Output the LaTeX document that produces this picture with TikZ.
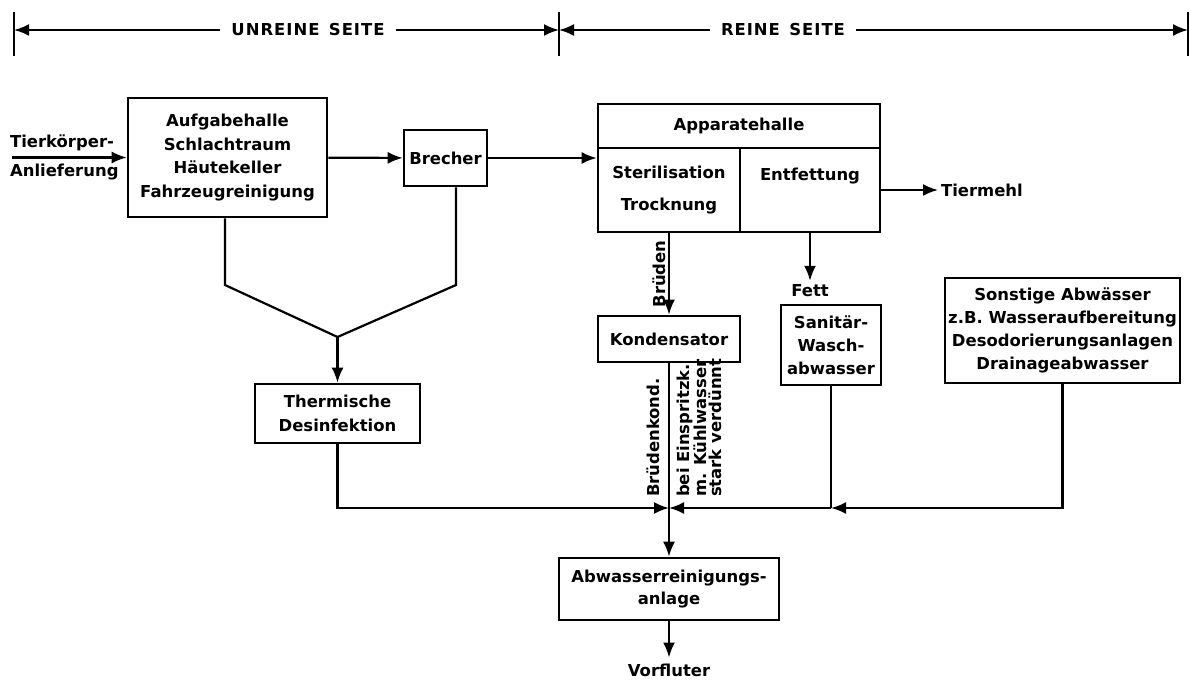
\documentclass[tikz,border=0pt]{standalone}
\usepackage{fontspec}
\setmainfont{DejaVu Sans}
\usetikzlibrary{arrows.meta,positioning}

\begin{document}
\begin{tikzpicture}[>={Latex[length=15bp,width=12bp]}, line width=2.2bp,
	every node/.style={font=\fontsize{16.5}{24}\selectfont\bfseries, align=center},
	box/.style={draw, line width=2.6bp, inner sep=0pt},
	rot/.style={rotate=90, inner sep=2bp, font=\fontsize{16.5}{15}\selectfont\bfseries}]
	\useasboundingbox (0bp,0bp) rectangle (1191bp,-685bp);

	% Seiten
	\coordinate (t1) at (14bp,-30bp);
	\coordinate (t2) at (559bp,-30bp);
	\coordinate (t3) at (1188bp,-30bp);
	\node (unrein) at (308bp,-30bp) [inner sep=10bp, font=\fontsize{16.5}{24}\selectfont\bfseries\addfontfeature{LetterSpace=6}] {UNREINE\, SEITE};
	\node (rein) at (783bp,-30bp) [inner sep=10bp, font=\fontsize{16.5}{24}\selectfont\bfseries\addfontfeature{LetterSpace=6}] {REINE\, SEITE};
	\foreach \t in {t1,t2,t3}
		\draw ([yshift=18bp]\t) -- ([yshift=-26bp]\t);
	\draw [->] (unrein) to (t1);
	\draw [->] (unrein) to (t2);
	\draw [->] (rein) to (t2);
	\draw [->] (rein) to (t3);

	% unreine Seite
	\node (auf) at (227.5bp,-157.5bp) [box, minimum width=199bp, minimum height=119bp] {Aufgabehalle\\Schlachtraum\\Häutekeller\\Fahrzeugreinigung};
	\node (brech) at (445.5bp,-158bp) [box, minimum width=83bp, minimum height=56bp] {Brecher};
	\node (tk) at (8bp,-143bp) [anchor=west, inner sep=1bp] {Tierkörper-};
	\node (anl) at (8bp,-172bp) [anchor=west, inner sep=1bp] {Anlieferung};
	\coordinate (feed) at (12bp,-157.5bp);
	\node (therm) at (337.5bp,-413.5bp) [box, minimum width=165bp, minimum height=59bp] {Thermische\\Desinfektion};
	\coordinate (fl) at (225bp,-285bp);
	\coordinate (fr) at (456bp,-285bp);
	\coordinate (fm) at (337.5bp,-337bp);

	% reine Seite
	\node (app) at (739bp,-126bp) [box, minimum width=282bp, minimum height=44bp] {Apparatehalle};
	\node (ster) at (669bp,-190bp) [box, minimum width=142bp, minimum height=84bp] {Sterilisation\\[8bp]Trocknung};
	\node (entf) at (810bp,-190bp) [box, minimum width=140bp, minimum height=84bp] {Entfettung\\[8bp]\mbox{}};
	\node (mehl) at (938bp,-190bp) [anchor=west, inner sep=2bp] {Tiermehl};
	\node (fett) at (810bp,-291bp) [inner sep=3bp] {Fett};
	\node (kond) at (669bp,-339bp) [box, minimum width=142bp, minimum height=46bp] {Kondensator};
	\node (san) at (831bp,-345bp) [box, minimum width=100bp, minimum height=80bp, font=\fontsize{16.5}{23}\selectfont\bfseries] {Sanitär-\\Wasch-\\abwasser};
	\node (sonst) at (1062.5bp,-330.5bp) [box, minimum width=235bp, minimum height=105bp, font=\fontsize{16.5}{23}\selectfont\bfseries] {Sonstige Abwässer\\z.B. Wasseraufbereitung\\Desodorierungsanlagen\\Drainageabwasser};
	\node (abw) at (669bp,-589bp) [box, minimum width=220bp, minimum height=62bp, font=\fontsize{16.5}{23}\selectfont\bfseries] {Abwasserreinigungs-\\anlage};
	\node (vorf) at (669bp,-670bp) [inner sep=5bp] {Vorfluter};
	\coordinate (jn) at (669bp,-508bp);
	\coordinate (sjn) at (831bp,-508bp);

	\draw [->] (feed) to (auf.west);
	\draw [->] (auf) to (brech);
	\draw [->] (brech) to (brech -| ster.west);
	\draw (auf.south -| fl) -- (fl) -- (fm) -- (fr) -- (brech.south -| fr);
	\draw [->] (fm) to (therm.north);

	\draw [->] (entf.east) to (mehl.west);
	\draw [->] (entf.south) to (fett.north);
	\draw [->] (ster.south) to node[midway, rot, anchor=south] {Brüden} (kond.north);
	\draw [->] (kond.south) to (abw.north);
	\node at ([xshift=-6bp,yshift=8bp]jn) [rot, anchor=south west] {Brüdenkond.};
	\node at ([xshift=5bp,yshift=8bp]jn) [rot, anchor=north west, align=left] {bei Einspritzk.\\m. Kühlwasser\\stark verdünnt};

	\draw [->] (therm.south) |- (jn);
	\draw (san.south) -- (sjn);
	\draw [->] (sonst.south) |- (sjn);
	\draw [->] (sjn) to (jn);
	\draw [->] (abw.south) to (vorf.north);
\end{tikzpicture}
\end{document}
